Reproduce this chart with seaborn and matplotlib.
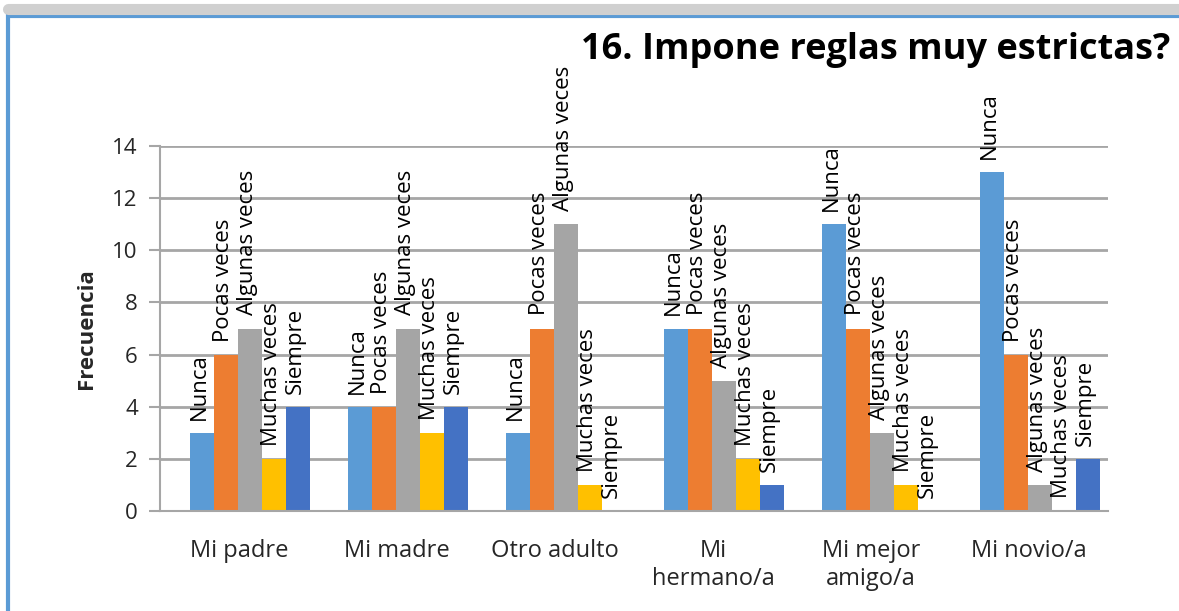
import matplotlib
matplotlib.use("Agg")
import matplotlib.pyplot as plt
import seaborn as sns
import pandas as pd
from matplotlib.patches import Rectangle
from matplotlib.lines import Line2D

categories = ["Mi padre", "Mi madre", "Otro adulto", "Mi\nhermano/a", "Mi mejor\namigo/a", "Mi novio/a"]
series = ["Nunca", "Pocas veces", "Algunas veces", "Muchas veces", "Siempre"]
nunca = [3, 4, 3, 7, 11, 13]
pocas = [6, 4, 7, 7, 7, 6]
algunas = [7, 7, 11, 5, 3, 1]
muchas = [2, 3, 1, 2, 1, 0]
siempre = [4, 4, 0, 1, 0, 2]
colors = ["#5B9BD5", "#ED7D31", "#A5A5A5", "#FFC000", "#4472C4"]
yticks = [0, 2, 4, 6, 8, 10, 12, 14]

values = [nunca, pocas, algunas, muchas, siempre]
rows = []
for s, vals in zip(series, values):
    for c, v in zip(categories, vals):
        rows.append({"cat": c, "serie": s, "val": v})
df = pd.DataFrame(rows)

sns.set_theme(style="white")
plt.rcParams["font.family"] = ["Open Sans", "DejaVu Sans"]

fig = plt.figure(figsize=(11.79, 6.11), dpi=100)
ax = fig.add_axes([160/1179, 1-511/611, (1108-160)/1179, (511-146)/611])

sns.barplot(data=df, x="cat", y="val", hue="serie", order=categories, hue_order=series,
            palette=colors, width=0.76, ax=ax, legend=False, edgecolor="none", saturation=1)

# slight depth offset of the bars (3D look of the original)
shift = 0.07
for cont in ax.containers:
    for bar in cont:
        bar.set_x(bar.get_x() + shift)

ax.set_ylim(0, 14)
ax.set_xlim(-0.5, len(categories) - 0.5)
ax.set_yticks(yticks)
ax.set_yticklabels([str(t) for t in yticks], fontsize=16)
ax.yaxis.grid(True, color="#A6A6A6", linewidth=2)
ax.set_axisbelow(True)
ax.set_xlabel("")
ax.set_ylabel("Frecuencia", fontsize=16, fontweight="bold")
ax.yaxis.set_label_coords(-0.066, 0.5)
ax.set_xticks(range(len(categories)))
ax.set_xticklabels(categories, fontsize=17, linespacing=1.25)
ax.tick_params(axis="x", length=0, pad=20)
ax.set_xticks([i - 0.5 for i in range(len(categories) + 1)], minor=True)
ax.tick_params(axis="x", which="minor", length=10, color="#A6A6A6", width=1.5)
ax.tick_params(axis="y", length=8, color="#A6A6A6", width=1.5, pad=8, left=True)
for sp in ["top", "right"]:
    ax.spines[sp].set_visible(False)
for sp in ["left", "bottom"]:
    ax.spines[sp].set_color("#A6A6A6")
    ax.spines[sp].set_linewidth(1.5)

for cont, name in zip(ax.containers, series):
    for bar in cont:
        h = bar.get_height()
        x = bar.get_x() + bar.get_width() / 2 - 0.015
        ax.text(x, h + 0.5, name, rotation=90, ha="center", va="bottom",
                fontsize=16, color="black", clip_on=False)

fig.text(0.993, 0.918, "16. Impone reglas muy estrictas?", ha="right", va="center",
         fontsize=26, fontweight="bold", color="black")

fig.lines.append(Line2D([8/1179, 1], [1 - 9/611, 1 - 9/611], transform=fig.transFigure,
                        color="#D0D0D0", linewidth=8))
fig.patches.append(Rectangle((8/1179, -0.05), 1.2, 1 - 16/611 + 0.05, transform=fig.transFigure,
                             fill=False, edgecolor="#5B9BD5", linewidth=3))

fig.savefig("out.png", dpi=100)
